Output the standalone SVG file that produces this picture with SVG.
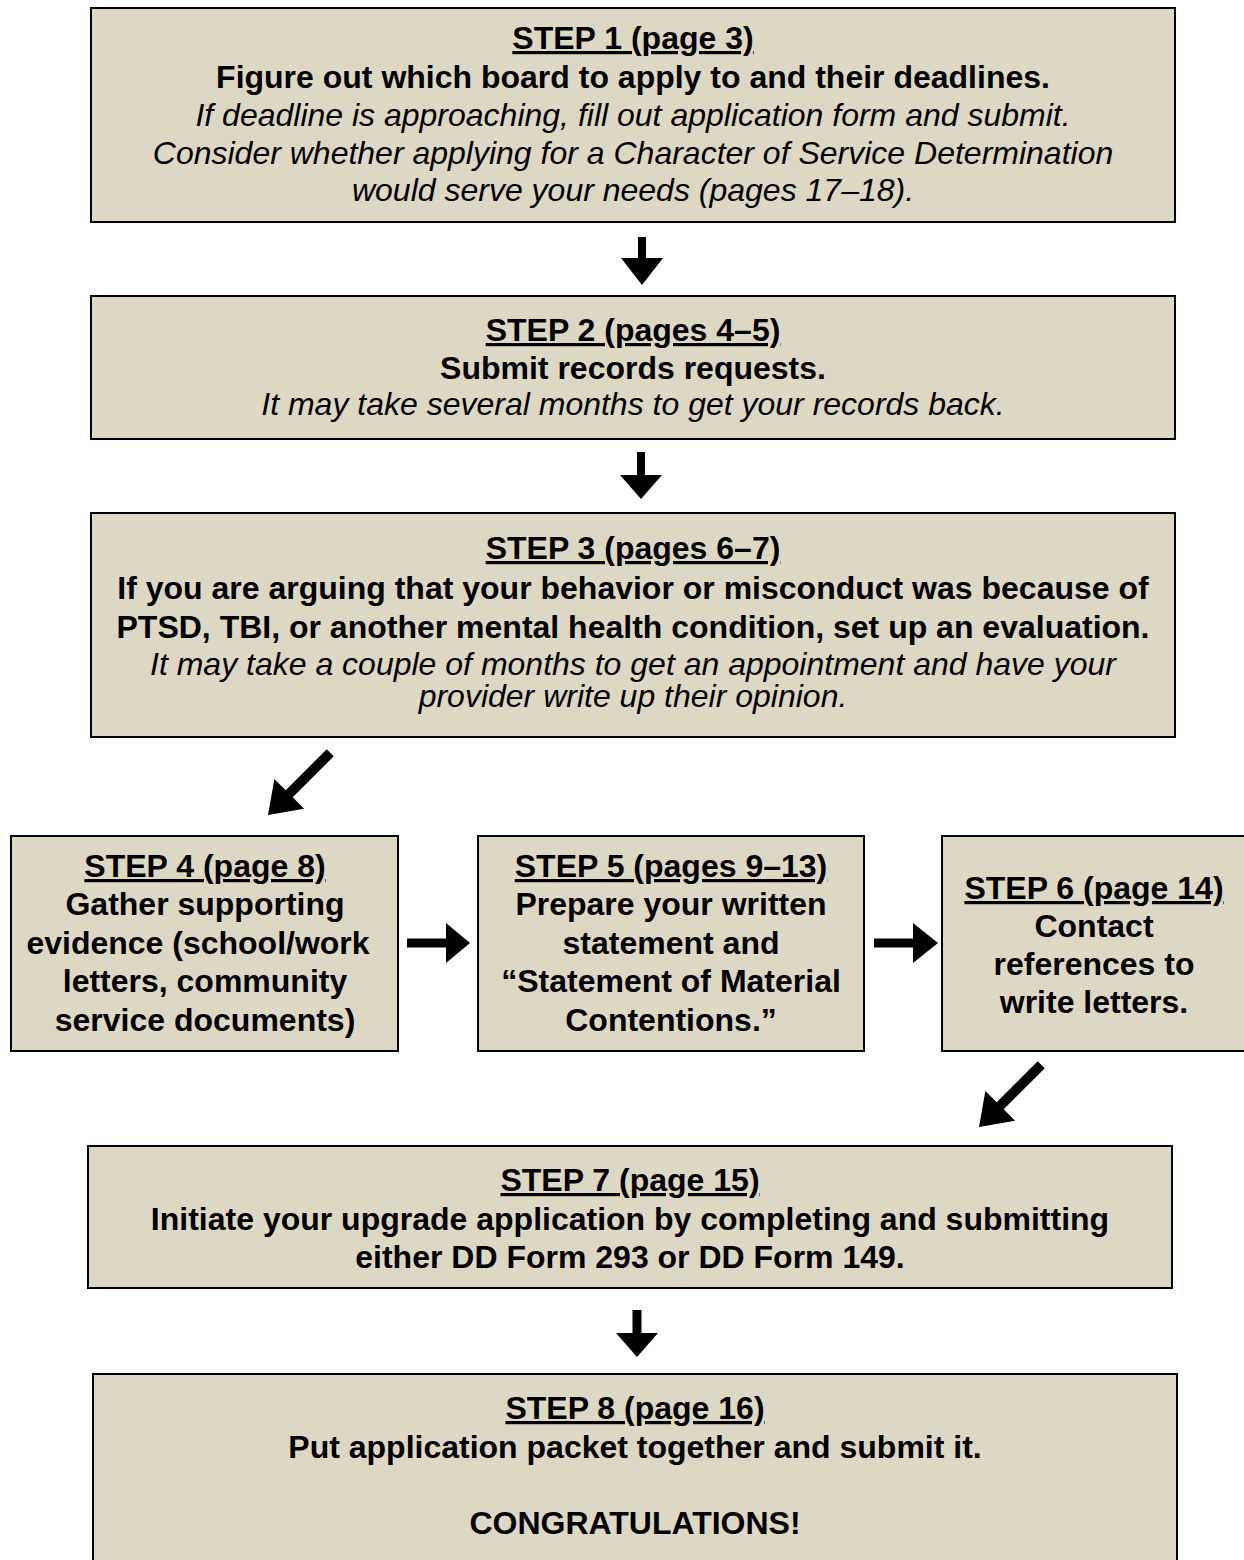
<svg xmlns="http://www.w3.org/2000/svg" width="1244" height="1560" viewBox="0 0 1244 1560">
<style>
.box{fill:#ddd8c4;stroke:#000;stroke-width:2}
text{font-family:"Liberation Sans",Arial,sans-serif;font-size:32px;fill:#000;text-anchor:middle}
.h{font-weight:bold;text-decoration:underline}
.b{font-weight:bold}
.i{font-style:italic}
.arr{fill:#000}
</style>
<rect width="1244" height="1560" fill="#fff"/>
<g id="step1">
<rect class="box" x="91" y="8" width="1084" height="214"/>
<text class="h" x="633" y="49">STEP 1 (page 3)</text>
<text class="b" x="633" y="88">Figure out which board to apply to and their deadlines.</text>
<text class="i" x="633" y="126">If deadline is approaching, fill out application form and submit.</text>
<text class="i" x="633" y="164">Consider whether applying for a Character of Service Determination</text>
<text class="i" x="633" y="201">would serve your needs (pages 17–18).</text>
</g>
<g id="step2">
<rect class="box" x="91" y="296" width="1084" height="143"/>
<text class="h" x="633" y="341">STEP 2 (pages 4–5)</text>
<text class="b" x="633" y="379">Submit records requests.</text>
<text class="i" x="633" y="415">It may take several months to get your records back.</text>
</g>
<g id="step3">
<rect class="box" x="91" y="513" width="1084" height="224"/>
<text class="h" x="633" y="559">STEP 3 (pages 6–7)</text>
<text class="b" x="633" y="599">If you are arguing that your behavior or misconduct was because of</text>
<text class="b" x="633" y="638">PTSD, TBI, or another mental health condition, set up an evaluation.</text>
<text class="i" x="633" y="675">It may take a couple of months to get an appointment and have your</text>
<text class="i" x="633" y="707">provider write up their opinion.</text>
</g>
<g id="step4">
<rect class="box" x="11" y="836" width="387" height="215"/>
<text class="h" x="205" y="877">STEP 4 (page 8)</text>
<text class="b" x="205" y="915">Gather supporting</text>
<text class="b" x="198" y="954">evidence (school/work</text>
<text class="b" x="205" y="992">letters, community</text>
<text class="b" x="205" y="1031">service documents)</text>
</g>
<g id="step5">
<rect class="box" x="478" y="836" width="386" height="215"/>
<text class="h" x="671" y="877">STEP 5 (pages 9–13)</text>
<text class="b" x="671" y="915">Prepare your written</text>
<text class="b" x="671" y="954">statement and</text>
<text class="b" x="671" y="992">“Statement of Material</text>
<text class="b" x="671" y="1031">Contentions.”</text>
</g>
<g id="step6">
<rect class="box" x="942" y="836" width="320" height="215"/>
<text class="h" x="1094" y="899">STEP 6 (page 14)</text>
<text class="b" x="1094" y="937">Contact</text>
<text class="b" x="1094" y="975">references to</text>
<text class="b" x="1094" y="1013">write letters.</text>
</g>
<g id="step7">
<rect class="box" x="88" y="1146" width="1084" height="142"/>
<text class="h" x="630" y="1191">STEP 7 (page 15)</text>
<text class="b" x="630" y="1230">Initiate your upgrade application by completing and submitting</text>
<text class="b" x="630" y="1268">either DD Form 293 or DD Form 149.</text>
</g>
<g id="step8">
<rect class="box" x="93" y="1374" width="1084" height="200"/>
<text class="h" x="635" y="1419">STEP 8 (page 16)</text>
<text class="b" x="635" y="1458">Put application packet together and submit it.</text>
<text class="b" x="635" y="1534">CONGRATULATIONS!</text>
</g>
<g id="connectors">
<polygon class="arr" transform="translate(642,285)" points="-4,-48 4,-48 4,-27 21,-27 0,0 -21,-27 -4,-27"/>
<polygon class="arr" transform="translate(641,499)" points="-4,-47 4,-47 4,-24 21,-24 0,0 -21,-24 -4,-24"/>
<polygon class="arr" transform="translate(268,815) rotate(45)" points="-5,-88 5,-88 5,-30 21,-30 0,0 -21,-30 -5,-30"/>
<polygon class="arr" transform="translate(470,943) rotate(-90)" points="-4.5,-63 4.5,-63 4.5,-24 20,-24 0,0 -20,-24 -4.5,-24"/>
<polygon class="arr" transform="translate(938,943) rotate(-90)" points="-4.5,-64 4.5,-64 4.5,-25 20,-25 0,0 -20,-25 -4.5,-25"/>
<polygon class="arr" transform="translate(979,1127) rotate(45)" points="-5,-88 5,-88 5,-30 21,-30 0,0 -21,-30 -5,-30"/>
<polygon class="arr" transform="translate(637,1357)" points="-4.5,-47 4.5,-47 4.5,-24 21,-24 0,0 -21,-24 -4.5,-24"/>
</g>
</svg>
